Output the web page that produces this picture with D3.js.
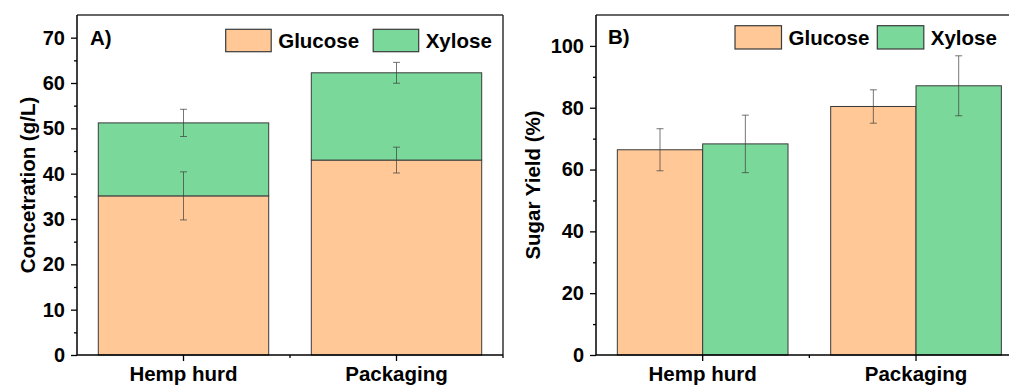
<!DOCTYPE html>
<html>
<head>
<meta charset="utf-8">
<script src="https://cdn.jsdelivr.net/npm/d3@7/dist/d3.min.js"></script>
<style>
  html, body { margin: 0; padding: 0; background: #fff; }
  svg { display: block; }
  text { font-family: "Liberation Sans", Arial, sans-serif; font-weight: bold; fill: #000; }
</style>
</head>
<body>
<svg id="chart" width="1009" height="385"></svg>
<script>
// ---- data ----
const categories = ["Hemp hurd", "Packaging"];
const seriesNames = ["Glucose", "Xylose"];
// Panel A: concentration (g/L), stacked
const concGlucose = [35.1, 43.0];
const concGlucoseErr = [5.3, 2.85];
const concXylose = [16.1, 19.25];
const concXyloseErr = [3.0, 2.3];
// Panel B: sugar yield (%), grouped
const yieldGlucose = [66.4, 80.4];
const yieldGlucoseErr = [6.8, 5.4];
const yieldXylose = [68.3, 87.1];
const yieldXyloseErr = [9.3, 9.7];
// ticks
const ticksA = [0, 10, 20, 30, 40, 50, 60, 70];
const minorTicksA = [5, 15, 25, 35, 45, 55, 65];
const ticksB = [0, 20, 40, 60, 80, 100];
const minorTicksB = [10, 30, 50, 70, 90];

const colors = { Glucose: "#FFC896", Xylose: "#7AD89A" };
const edge = "#3a3a3a";
const errColor = "rgba(60,60,60,0.7)";

const svg = d3.select("#chart");

function drawFrame(g, x, y, left, right, top, bottom, ticks, minor, titleText, titleX, tickLabelOffset) {
  // y axis
  const yAxis = d3.axisLeft(y).tickValues(ticks).tickSize(6).tickPadding(tickLabelOffset).tickSizeOuter(0);
  const ya = g.append("g").attr("transform", `translate(${left},0)`).call(yAxis);
  ya.select(".domain").remove();
  ya.selectAll("line").attr("stroke", "#000").attr("stroke-width", 1.3);
  ya.selectAll("text").style("font-size", "20px").attr("fill", "#000");
  const ym = g.append("g").attr("transform", `translate(${left},0)`)
    .call(d3.axisLeft(y).tickValues(minor).tickSize(3).tickFormat(""));
  ym.select(".domain").remove();
  ym.selectAll("line").attr("stroke", "#000").attr("stroke-width", 1.3);

  // x axis
  const xa = g.append("g").attr("transform", `translate(0,${bottom})`)
    .call(d3.axisBottom(x).tickSize(6).tickFormat(""));
  xa.select(".domain").remove();
  xa.selectAll("line").attr("stroke", "#000").attr("stroke-width", 1.3);
  // minor x tick between categories
  const mid = (x(categories[0]) + x(categories[1]) + x.bandwidth()) / 2;
  g.append("line").attr("x1", mid).attr("x2", mid).attr("y1", bottom).attr("y2", bottom + 3)
    .attr("stroke", "#000").attr("stroke-width", 1.3);
  g.append("line").attr("x1", right).attr("x2", right).attr("y1", bottom).attr("y2", bottom + 3)
    .attr("stroke", "#000").attr("stroke-width", 1.3);
  g.selectAll(".xlab").data(categories).enter().append("text")
    .attr("x", d => x(d) + x.bandwidth() / 2).attr("y", 380.5)
    .attr("text-anchor", "middle").style("font-size", "20.5px").text(d => d);

  // frame lines
  g.append("line").attr("x1", left).attr("x2", right).attr("y1", top).attr("y2", top)
    .attr("stroke", "#333").attr("stroke-width", 1.5);
  g.append("line").attr("x1", right).attr("x2", right).attr("y1", top).attr("y2", bottom)
    .attr("stroke", "#333").attr("stroke-width", 1.5);

  // title
  g.append("text").attr("transform", `translate(${titleX},${(top + bottom) / 2}) rotate(-90)`)
    .attr("text-anchor", "middle").style("font-size", "20.5px").text(titleText);
}

function drawAxisLines(g, left, right, top, bottom) {
  g.append("line").attr("x1", left).attr("x2", right).attr("y1", bottom).attr("y2", bottom)
    .attr("stroke", "#000").attr("stroke-width", 1.5);
  g.append("line").attr("x1", left).attr("x2", left).attr("y1", top).attr("y2", bottom)
    .attr("stroke", "#000").attr("stroke-width", 1.5);
}

function errBar(g, cx, yv, lo, hi, cap) {
  g.append("line").attr("x1", cx).attr("x2", cx).attr("y1", yv(lo)).attr("y2", yv(hi))
    .attr("stroke", errColor).attr("stroke-width", 1);
  [lo, hi].forEach(v => {
    g.append("line").attr("x1", cx - cap).attr("x2", cx + cap).attr("y1", yv(v)).attr("y2", yv(v))
      .attr("stroke", errColor).attr("stroke-width", 1);
  });
}

function legend(g, x0, y0, boxW, boxH, gap2) {
  let xs = [x0, x0 + gap2];
  seriesNames.forEach((s, i) => {
    g.append("rect").attr("x", xs[i]).attr("y", y0).attr("width", boxW).attr("height", boxH)
      .attr("fill", colors[s]).attr("stroke", edge).attr("stroke-width", 1.2);
    g.append("text").attr("x", xs[i] + boxW + 7).attr("y", y0 + boxH / 2).attr("dy", "0.36em")
      .style("font-size", "20.5px").text(s);
  });
}

// ---------- Panel A ----------
{
  const left = 77, right = 503, top = 15, bottom = 355;
  const x = d3.scaleBand().domain(categories).range([left, right]).paddingInner(0.2).paddingOuter(0.1);
  const y = d3.scaleLinear().domain([0, 75]).range([bottom, top]);
  const g = svg.append("g");

  const rows = categories.map((c, i) => ({ cat: c, Glucose: concGlucose[i], Xylose: concXylose[i] }));
  const stack = d3.stack().keys(seriesNames)(rows);
  stack.forEach(layer => {
    g.selectAll(null).data(layer).enter().append("rect")
      .attr("x", d => x(d.data.cat)).attr("width", x.bandwidth())
      .attr("y", d => y(d[1])).attr("height", d => y(d[0]) - y(d[1]))
      .attr("fill", colors[layer.key]).attr("stroke", edge).attr("stroke-width", 1);
  });
  categories.forEach((c, i) => {
    const cx = x(c) + x.bandwidth() / 2;
    const gTop = concGlucose[i];
    errBar(g, cx, y, gTop - concGlucoseErr[i], gTop + concGlucoseErr[i], 3.5);
    const xTop = concGlucose[i] + concXylose[i];
    errBar(g, cx, y, xTop - concXyloseErr[i], xTop + concXyloseErr[i], 3.5);
  });
  drawFrame(g, x, y, left, right, top, bottom, ticksA, minorTicksA, "Concetration (g/L)", 35, 6);
  drawAxisLines(g, left, right, top, bottom);
  g.append("text").attr("x", 90).attr("y", 45).style("font-size", "20.5px").text("A)");
  legend(g, 225.7, 29.3, 45.5, 22.4, 147.5);
}

// ---------- Panel B ----------
{
  const left = 596, right = 1022.7, top = 15, bottom = 355;
  const x = d3.scaleBand().domain(categories).range([left, right]).paddingInner(0.2).paddingOuter(0.1);
  const xs = d3.scaleBand().domain(seriesNames).range([0, x.bandwidth()]).padding(0);
  const y = d3.scaleLinear().domain([0, 110]).range([bottom, top]);
  const g = svg.append("g");

  const vals = { Glucose: yieldGlucose, Xylose: yieldXylose };
  const errs = { Glucose: yieldGlucoseErr, Xylose: yieldXyloseErr };
  seriesNames.forEach(s => {
    g.selectAll(null).data(categories).enter().append("rect")
      .attr("x", c => x(c) + xs(s)).attr("width", xs.bandwidth())
      .attr("y", (c, i) => y(vals[s][i])).attr("height", (c, i) => bottom - y(vals[s][i]))
      .attr("fill", colors[s]).attr("stroke", edge).attr("stroke-width", 1);
  });
  seriesNames.forEach(s => {
    categories.forEach((c, i) => {
      const cx = x(c) + xs(s) + xs.bandwidth() / 2;
      errBar(g, cx, y, vals[s][i] - errs[s][i], vals[s][i] + errs[s][i], 3.5);
    });
  });
  drawFrame(g, x, y, left, right, top, bottom, ticksB, minorTicksB, "Sugar Yield (%)", 540, 6);
  drawAxisLines(g, left, right, top, bottom);
  g.append("text").attr("x", 608).attr("y", 44).style("font-size", "20.5px").text("B)");
  legend(g, 735, 25.7, 46.5, 23.3, 142.3);
}
</script>
</body>
</html>
